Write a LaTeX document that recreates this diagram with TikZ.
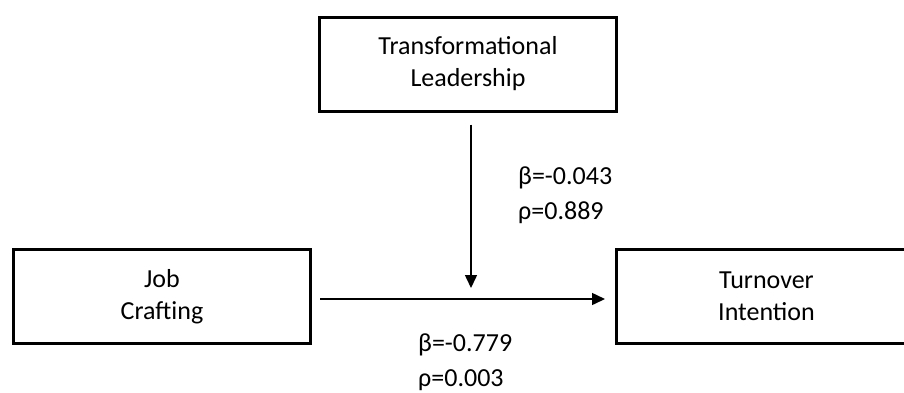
\documentclass[tikz,border=0pt]{standalone}
\usepackage{fontspec}
\setmainfont{Carlito}
\usetikzlibrary{arrows.meta,positioning}

\begin{document}
\begin{tikzpicture}[x=1pt,y=-1pt,>={Triangle[length=13pt,width=12pt]},
  var/.style={draw,line width=3pt,minimum width=297pt,minimum height=94pt,align=center,font=\fontsize{26}{32}\selectfont},
  coef/.style={align=left,inner sep=0pt,font=\fontsize{26}{35}\selectfont},
  link/.style={->,line width=1.5pt}]
  \clip (0,0) rectangle (904,392);
  \node [var] (lead) at (468,64) {Transformational\\Leadership};
  \node [var] (job) at (162,296.5) {Job\\Crafting};
  \node [var,minimum width=300pt] (turn) at (766.5,296.5) {Turnover\\Intention};
  \coordinate (meet) at (471,299);

  \draw [link,shorten <=8pt,shorten >=10pt] ([yshift=-2.5pt]job.east) -- ([yshift=-2.5pt]turn.west);
  \draw [link,shorten <=12pt,shorten >=11pt] (lead.south -| meet) -- (meet);

  \node [coef,anchor=west] (c1) at (518,195.5) {β=-0.043\\ρ=0.889};
  \node [coef,anchor=west] (c2) at (418,362.5) {β=-0.779\\ρ=0.003};
\end{tikzpicture}
\end{document}
